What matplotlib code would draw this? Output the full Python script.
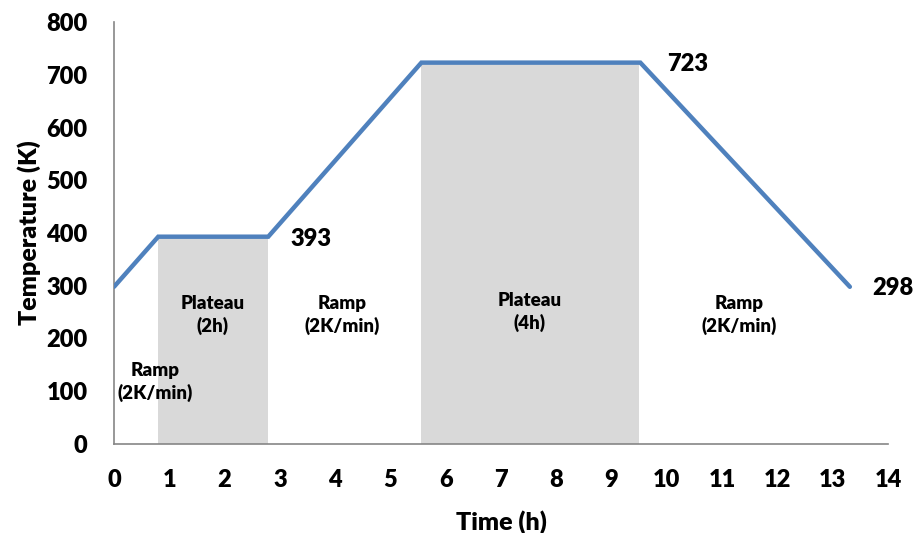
import matplotlib
matplotlib.use("Agg")
import matplotlib.pyplot as plt

plt.rcParams['font.family'] = ['Lato', 'DejaVu Sans']
W = 'heavy'
plt.rcParams['font.weight'] = W

# Temperature profile
time_h = [0, 0.80, 2.79, 5.56, 9.52, 13.31]
temp_k = [298, 393, 393, 723, 723, 298]

# Shaded plateau regions
plateau_start = [0.80, 5.56]
plateau_end = [2.79, 9.49]
plateau_top = [393, 723]

# Stage labels
stage_text = ["Ramp\n(2K/min)", "Plateau\n(2h)", "Ramp\n(2K/min)", "Plateau\n(4h)", "Ramp\n(2K/min)"]
stage_x = [0.74, 1.79, 4.13, 7.52, 11.3]
stage_y = [118, 245, 245, 250, 245]

# Temperature annotations
ann_text = ["393", "723", "298"]
ann_x = [3.2, 10.0, 13.72]
ann_y = [388, 720, 296]

fig = plt.figure(figsize=(9.15, 5.33), dpi=100)
ax = fig.add_axes([0.1246, 0.167, 0.8459, 0.7917])

for s, e, h in zip(plateau_start, plateau_end, plateau_top):
    ax.fill_between([s, e], 0, h, color='#d9d9d9', linewidth=0, zorder=1)

ax.plot(time_h, temp_k, color='#4f81bd', linewidth=3.2, solid_capstyle='round',
        solid_joinstyle='miter', zorder=3)

for t, x, y in zip(stage_text, stage_x, stage_y):
    ax.text(x, y, t, ha='center', va='center', fontsize=13.5, fontweight=W,
            linespacing=1.3, zorder=4)

for t, x, y in zip(ann_text, ann_x, ann_y):
    ax.text(x, y, t, ha='left', va='center', fontsize=17, fontweight=W, zorder=4)

ax.set_xlim(0, 14)
ax.set_ylim(0, 800)
ax.set_xticks(range(0, 15))
ax.set_yticks(range(0, 801, 100))
ax.tick_params(length=0, labelsize=17)
ax.tick_params(axis='y', pad=19)
ax.tick_params(axis='x', pad=18)
for lbl in ax.get_xticklabels() + ax.get_yticklabels():
    lbl.set_fontweight(W)

for side in ['top', 'right']:
    ax.spines[side].set_visible(False)
for side in ['left', 'bottom']:
    ax.spines[side].set_color('#868686')
    ax.spines[side].set_linewidth(1.2)

ax.set_xlabel('Time (h)', fontsize=18, fontweight=W, labelpad=14)
ax.set_ylabel('Temperature (K)', fontsize=18, fontweight=W, labelpad=4)

fig.savefig('out.png', dpi=100)
